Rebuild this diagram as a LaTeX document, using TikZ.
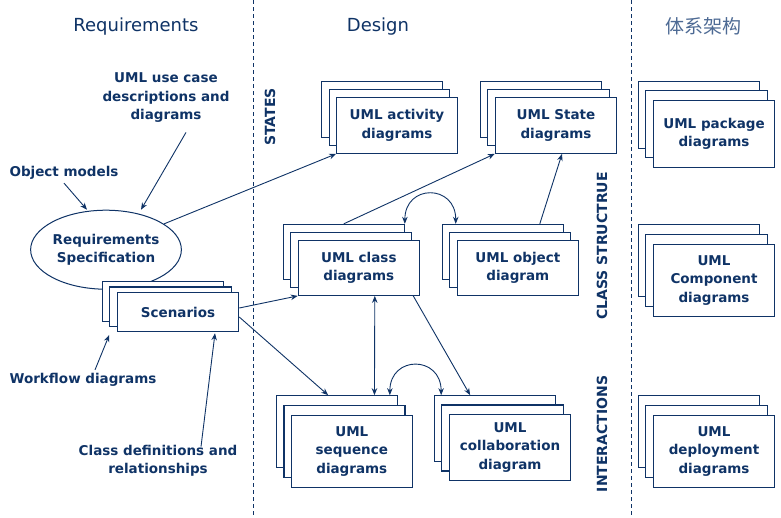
\documentclass[tikz,border=0pt]{standalone}
\usepackage{fontspec}
\setmainfont{DejaVu Sans}
\newfontfamily\cjk{Noto Sans CJK SC}
\usetikzlibrary{calc,arrows.meta,shapes.geometric}
\definecolor{navy}{HTML}{0F3366}
\definecolor{cjkblue}{HTML}{4D6A94}
% #1 name, #2 x, #3 y (front centre), #4 w, #5 h, #6 dx, #7 dy, #8 text
\newcommand\umlstack[8]{%
  \node[stk, minimum width=#4pt, minimum height=#5pt] (#13) at (#2-2*#6, #3-2*#7) {};
  \node[stk, minimum width=#4pt, minimum height=#5pt] (#12) at (#2-#6, #3-#7) {};
  \node[stk, minimum width=#4pt, minimum height=#5pt, lbl] (#1) at (#2, #3) {#8};
}
\begin{document}
\begin{tikzpicture}[x=1pt,y=-1pt,
  lbl/.style={text=navy, font=\fontsize{13.5}{18.5}\selectfont\bfseries, align=center},
  stk/.style={draw=navy, fill=white, line width=1.1pt, inner sep=0pt},
  arr/.style={draw=navy, line width=0.9pt, -{Stealth[length=7pt,width=5.5pt]}},
  darr/.style={draw=navy, line width=0.9pt, {Stealth[length=7pt,width=5.5pt]}-{Stealth[length=7pt,width=5.5pt]}},
  hdr/.style={text=navy, font=\fontsize{18}{22}\selectfont},
  vlbl/.style={text=navy, rotate=90, font=\fontsize{14}{16}\selectfont\bfseries},
  sep/.style={draw=navy, line width=1pt, dash pattern=on 4pt off 3pt}]
\useasboundingbox[fill=white] (0,0) rectangle (781,517);

% separators
\draw[sep] (253,0) -- (253,517);
\draw[sep] (631,0) -- (631,517);

% headers
\node[hdr] (hreq) at (136,27) {Requirements};
\node[hdr] (hdes) at (378,27) {Design};
\node[text=cjkblue, font=\cjk\fontsize{19}{22}\selectfont] (harch) at (703,26) {体系架构};

% vertical labels
\node[vlbl] (vst) at (270,117) {STATES};
\node[vlbl] (vcs) at (602,246) {CLASS STRUCTRUE};
\node[vlbl] (vin) at (602,434) {INTERACTIONS};

% requirements column
\node[lbl] (uc) at (166,98) {UML use case\\descriptions and\\diagrams};
\node[lbl] (om) at (64,173) {Object models};
\node[draw=navy, line width=1pt, ellipse, minimum width=143pt, minimum height=79pt, inner sep=0pt, lbl] (req) at (106,249.7) {Requirements\\Specification};
\umlstack{sc}{178}{312}{121.4}{39.4}{7.5}{5.3}{Scenarios}
\node[lbl] (wf) at (83,380) {Workflow diagrams};
\node[lbl] (cd) at (158,461) {Class definitions and\\relationships};

% design column
\umlstack{act}{397}{125.3}{120.6}{56}{7.5}{8}{UML activity\\diagrams}
\umlstack{st}{556}{125.3}{121.4}{56}{7.5}{8}{UML State\\diagrams}
\umlstack{cls}{358.8}{267.7}{121}{55.3}{7.5}{7.85}{UML class\\diagrams}
\umlstack{obj}{517.8}{267.7}{121}{55.3}{7.5}{7.85}{UML object\\diagram}
\umlstack{seq}{351.8}{451.3}{121}{72}{7.3}{9.8}{UML\\sequence\\diagrams}
\umlstack{col}{510}{447.3}{121.4}{66}{7.5}{9.3}{UML\\collaboration\\diagram}

% architecture column
\umlstack{pkg}{714}{133.7}{121.4}{67.3}{7.5}{9.5}{UML package\\diagrams}
\umlstack{cmp}{714}{280.2}{121.4}{71.7}{7.5}{10}{UML\\Component\\diagrams}
\umlstack{dep}{714}{451.3}{121.4}{72}{7.5}{9.8}{UML\\deployment\\diagrams}

% connectors
\draw[arr] ($(uc.south)+(20,6)$) -- ($(req.center)+(35,-40)$);
\draw[arr] (om.south) -- ($(req.center)+(-19,-40)$);
\draw[arr] (req.24) -- (act.south west);
\draw[arr] (cls3.north) -- (st.south west);
\draw[arr] ($(obj3.north)+(37,0)$) -- ($(st.south)+(6,0)$);
\draw[darr] (cls3.north east) .. controls +(0,-40) and +(0,-40) .. ($(obj3.north west)+(14,0)$);
\draw[arr] ($(sc.east)+(0,-4)$) -- (cls.south west);
\draw[arr] ($(sc.east)+(0,5)$) -- ($(seq3.north west)+(52,0)$);
\draw[darr] ($(cls.south)+(16,0)$) -- ($(seq3.north west)+(98.3,0)$);
\draw[arr] ($(cls.south east)+(-6.6,0)$) -- ($(col3.north west)+(36.4,0)$);
\draw[darr] ($(seq3.north east)+(-8.4,0)$) .. controls +(0,-40) and +(0,-40) .. ($(col3.north west)+(7.4,0)$);
\draw[arr] ($(wf.north)+(12,0)$) -- ($(sc2.south west)+(0,8)$);
\draw[arr] ($(cd.north)+(43,5)$) -- ($(sc.south)+(37,1)$);
\end{tikzpicture}
\end{document}
